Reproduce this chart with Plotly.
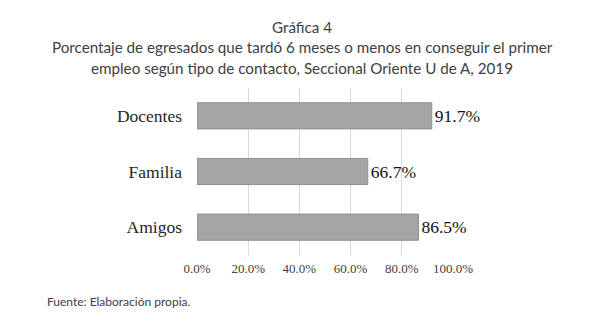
import plotly.graph_objects as go

categories = ["Amigos", "Familia", "Docentes"]
values = [86.5, 66.7, 91.7]
tick_vals = [0, 20, 40, 60, 80, 100]
tick_text = ["0.0%", "20.0%", "40.0%", "60.0%", "80.0%", "100.0%"]
title_lines = [
    "Gráfica 4",
    "Porcentaje de egresados que tardó 6 meses o menos en conseguir el primer",
    "empleo según tipo de contacto, Seccional Oriente U de A, 2019",
]
source_text = "Fuente: Elaboración propia."

W, H = 600, 328
L, R, T, B = 197, 147, 88, 73
pw = W - L - R
ph = H - T - B

def px_x(x):
    return (x - L) / pw

def px_y(y):
    return (H - B - y) / ph

fig = go.Figure()
fig.add_trace(go.Bar(
    y=categories, x=values, orientation="h",
    marker=dict(color="#a5a5a5", line=dict(color="#8f8f8f", width=1)),
    text=[f"{v:.1f}%" for v in values],
    textposition="outside",
    textfont=dict(family="Liberation Serif", size=17.5, color="#111111"),
    cliponaxis=False,
))

annotations = []
title_y = [27, 47, 68]
for line, yy in zip(title_lines, title_y):
    annotations.append(dict(
        text=line, x=px_x(302), y=px_y(yy), xref="paper", yref="paper",
        xanchor="center", yanchor="middle", showarrow=False,
        font=dict(family="Lato", size=15.2, color="#404040"),
    ))
annotations.append(dict(
    text=source_text, x=px_x(45), y=px_y(301), xref="paper", yref="paper",
    xanchor="left", yanchor="middle", showarrow=False,
    font=dict(family="Lato", size=12, color="#404040"),
))

fig.update_layout(
    width=W, height=H,
    margin=dict(l=L, r=R, t=T, b=B),
    paper_bgcolor="white", plot_bgcolor="white",
    showlegend=False,
    bargap=0.53,
    annotations=annotations,
    xaxis=dict(
        range=[0, 100], tickvals=tick_vals, ticktext=tick_text,
        showgrid=True, gridcolor="#d9d9d9", gridwidth=1,
        zeroline=False, showline=False,
        tickfont=dict(family="Liberation Serif", size=13, color="#404040"),
        ticklabelstandoff=4,
        fixedrange=True,
    ),
    yaxis=dict(
        showgrid=False, zeroline=False, showline=False,
        tickfont=dict(family="Liberation Serif", size=17.5, color="#262626"),
        ticklabelstandoff=14,
        fixedrange=True,
    ),
)

fig.write_html("out.html")
